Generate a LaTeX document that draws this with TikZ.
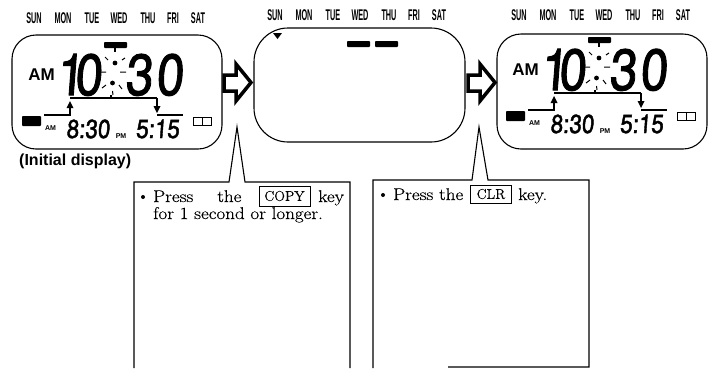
\documentclass[tikz,border=0pt]{standalone}
\usepackage{fontspec}
\setmainfont[FakeBold=0.35]{Latin Modern Roman}
\newfontfamily\lsans{Liberation Sans}
\newfontfamily\lcd[FakeBold=1.8]{TeX Gyre Heros}
\newfontfamily\lcdsmall[FakeBold=1.8]{TeX Gyre Heros}
\tikzset{
  frameline/.style={draw=black,line width=1.1pt},
  solidbar/.style={fill=black,rounded corners=.8pt},
  ray/.style={draw=black,line width=1pt},
  wire/.style={draw=black,line width=1.4pt},
  dayname/.style={font=\lsans\bfseries\fontsize{15.5}{15.5}\selectfont,xscale=.47,inner sep=0pt},
  bigdigits/.style={font=\lcd\fontsize{58}{58}\selectfont,anchor=base,inner sep=0pt,xscale=.85,xslant=.09},
  smalldigits/.style={font=\lcdsmall\fontsize{26}{26}\selectfont,anchor=base,inner sep=0pt,xscale=.86,xslant=.09},
  ampm/.style={font=\lsans\bfseries\fontsize{7}{7}\selectfont,anchor=base,inner sep=0pt},
  amlabel/.style={font=\lsans\bfseries\fontsize{17}{17}\selectfont,anchor=base,inner sep=0pt},
  caption/.style={font=\lsans\bfseries\fontsize{16}{16}\selectfont,anchor=base west,inner sep=0pt},
  bodytext/.style={font=\fontsize{17}{17}\selectfont,anchor=base west,inner sep=0pt,xscale=1.12},
  keybox/.style={draw=black,line width=.8pt,font=\fontsize{14}{14}\selectfont,inner sep=0pt,anchor=center},
  bullet/.style={circle,fill=black,inner sep=0pt,minimum size=4pt},
  hollowarrow/.style={draw=black,line width=3.5pt,fill=white,line join=miter},
  callout/.style={draw=black,line width=1.1pt,line join=miter},
}
\newcommand{\weekdays}{%
  \node[dayname] (sun) at (34,18) {SUN};
  \node[dayname] (mon) at (63,18) {MON};
  \node[dayname] (tue) at (92,18) {TUE};
  \node[dayname] (wed) at (119,18) {WED};
  \node[dayname] (thu) at (148,18) {THU};
  \node[dayname] (fri) at (173,18) {FRI};
  \node[dayname] (sat) at (198,18) {SAT};
}
\newcommand{\timeface}{%
  \fill[solidbar] (104,42) rectangle (127,48);
  \draw[wire] (115,48) -- (115,52);
  \node[amlabel] (am) at (41.5,80) {AM};
  \node[bigdigits] (hour) at (79,95) {1\kern-11pt 0};
  \node[bigdigits] (minute) at (154,95) {3\kern4pt 0};
  \fill (115,63) circle (2.4);
  \fill (112.5,83) circle (2.4);
  \draw[ray] (105,57) -- (108,60) (122,60) -- (125,58) (120,72) -- (126,72) (101,72) -- (106,72)
             (102,88) -- (106,85) (119,85) -- (122,89) (112.5,91) -- (113,95);
  \draw[wire] (111,95) -- (111,98);
  \draw[wire] (70,98) -- (157,98);
  \draw[wire] (44,115) -- (70,115) -- (70,107);
  \fill (66.5,108) -- (70,101) -- (73.5,108) -- cycle;
  \draw[wire] (157,98) -- (157,106);
  \fill (153.5,106) -- (157,113) -- (160.5,106) -- cycle;
  \draw[wire] (157,115) -- (183,115);
  \fill[solidbar] (22,116) rectangle (41,126);
  \node[ampm] (lowam) at (50.5,130.5) {AM};
  \node[smalldigits] (start) at (88,138) {8:30};
  \node[ampm] (lowpm) at (121,138) {PM};
  \node[smalldigits] (stop) at (157.5,138) {5:15};
}
\newcommand{\bookicon}{%
  \draw[draw=black,line width=.9pt] (193,117) rectangle (211,125) (202,117) -- (202,125);
}
\begin{document}
\begin{tikzpicture}[x=1pt,y=-1pt]
\useasboundingbox (0,0) rectangle (712,368);
% first display
\begin{scope}[name prefix=a-]
  \weekdays
  \draw[frameline] (12,35) [rounded corners=24pt] rectangle (222,149);
  \timeface
  \bookicon
\end{scope}
\node[caption] (initial) at (19,165) {(Initial display)};
% second display
\begin{scope}[shift={(241,-3)},name prefix=b-]
  \weekdays
\end{scope}
\draw[frameline] (254,28) [rounded corners=34pt] rectangle (465,142);
\fill (273,33) -- (282,33) -- (277.5,39) -- cycle;
\fill[solidbar] (347,41) rectangle (370,47);
\fill[solidbar] (375,41) rectangle (398,47);
% third display
\begin{scope}[shift={(485,-3)},name prefix=c-]
  \weekdays
\end{scope}
\draw[frameline] (497,34) [rounded corners=24pt] rectangle (707,149);
\begin{scope}[shift={(484,-5)},name prefix=c-]
  \timeface
  \bookicon
\end{scope}
% arrows
\draw[hollowarrow] (224,75) -- (236,75) -- (236,64) -- (251,82.5) -- (236,101) -- (236,91) -- (224,91) -- cycle;
\draw[hollowarrow] (468,75) -- (480,75) -- (480,64) -- (495,82.5) -- (480,101) -- (480,91) -- (468,91) -- cycle;
% callouts
\draw[callout] (134,368) -- (134,182) -- (229,182) -- (237,127) -- (245,182) -- (350,182) -- (350,368);
\draw[callout] (373,368) -- (373,180) -- (472,180) -- (479,127) -- (488,180) -- (589,180) -- (589,367) -- (448,367);
% text of the first callout
\node[bullet] (b1) at (143,197) {};
\node[bodytext] (press1) at (153,202) {Press};
\node[bodytext] (the1) at (217,202) {the};
\node[keybox,minimum width=51pt,minimum height=20pt] (copy) at (284.5,196) {COPY};
\node[bodytext] (key1) at (318,202) {key};
\node[bodytext] (line2) at (153,219) {for 1 second or longer.};
% text of the second callout
\node[bullet] (b2) at (383,195) {};
\node[bodytext] (press2) at (393,200) {Press the};
\node[keybox,minimum width=41pt,minimum height=18pt] (clr) at (491,194) {CLR};
\node[bodytext] (key2) at (518,200) {key.};
\end{tikzpicture}
\end{document}
